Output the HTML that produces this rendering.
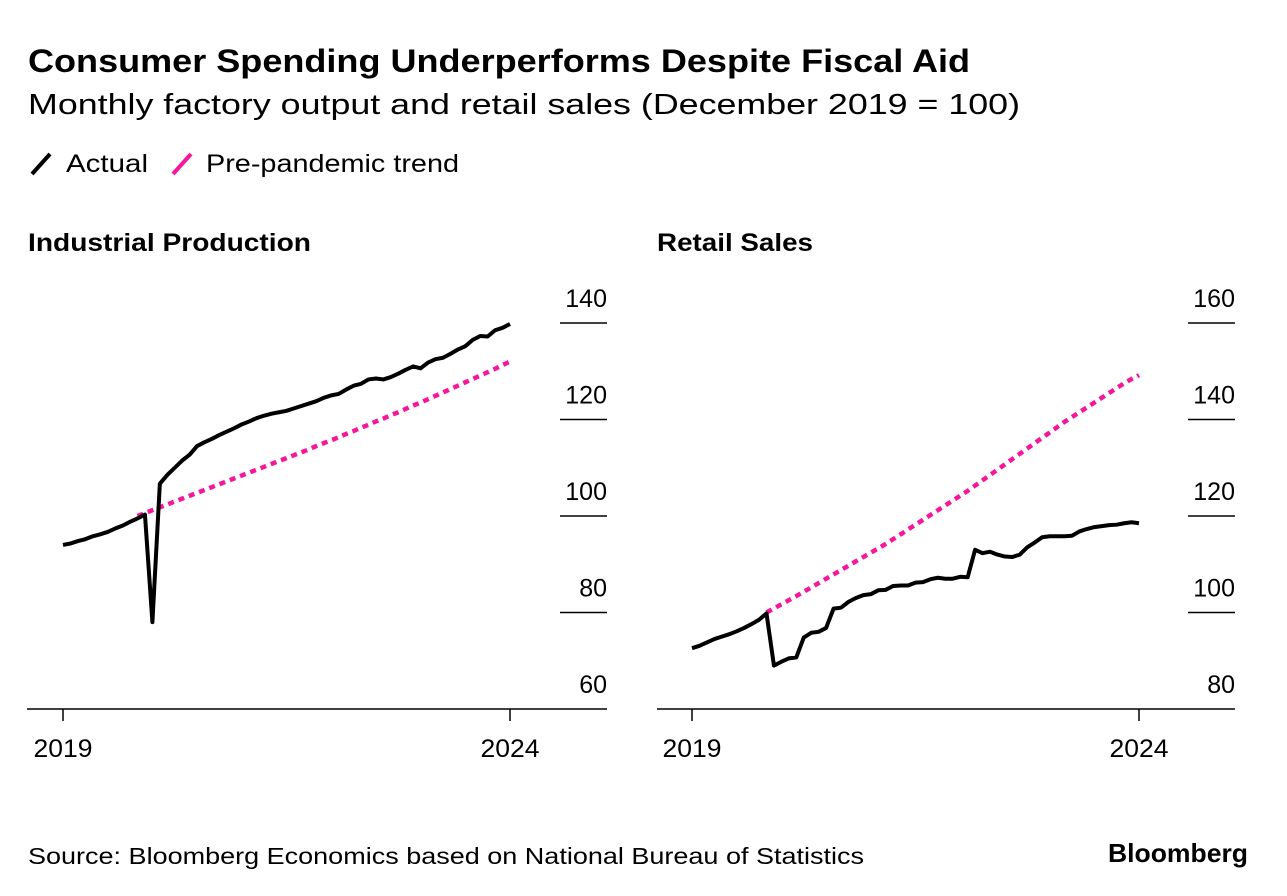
<!DOCTYPE html>
<html><head><meta charset="utf-8"><style>
body{margin:0;background:#fff;width:1287px;height:896px;overflow:hidden;font-family:"Liberation Sans",sans-serif;color:#000}
svg{position:absolute;left:0;top:0}
</style></head><body>
<svg id="c" width="1287" height="896">
<text x="28" y="72" font-size="32" font-weight="bold" textLength="942" lengthAdjust="spacingAndGlyphs">Consumer Spending Underperforms Despite Fiscal Aid</text>
<text x="28" y="114" font-size="29" textLength="992" lengthAdjust="spacingAndGlyphs">Monthly factory output and retail sales (December 2019 = 100)</text>
<g>
<line x1="32" y1="174" x2="50" y2="154" stroke="#000" stroke-width="4"/>
<text x="66" y="172" font-size="25" textLength="82" lengthAdjust="spacingAndGlyphs">Actual</text>
<line x1="173" y1="174" x2="191" y2="154" stroke="#f7169b" stroke-width="4"/>
<text x="206" y="172" font-size="25" textLength="253" lengthAdjust="spacingAndGlyphs">Pre-pandemic trend</text>
</g>
<text x="28" y="251" font-size="25" font-weight="bold" textLength="283" lengthAdjust="spacingAndGlyphs">Industrial Production</text>
<text x="657" y="251" font-size="25" font-weight="bold" textLength="156" lengthAdjust="spacingAndGlyphs">Retail Sales</text>
<text x="28" y="864" font-size="23" textLength="836" lengthAdjust="spacingAndGlyphs">Source: Bloomberg Economics based on National Bureau of Statistics</text>
<text x="1108" y="862" font-size="26" font-weight="bold" textLength="140" lengthAdjust="spacingAndGlyphs">Bloomberg</text>
</svg>
<script>
const leftActual=[94,94.3,94.8,95.2,95.8,96.2,96.7,97.4,98,98.8,99.5,100.3,78,106.7,108.5,110,111.5,112.7,114.5,115.3,116,116.8,117.5,118.2,119,119.6,120.3,120.8,121.2,121.5,121.8,122.3,122.8,123.3,123.8,124.5,125,125.3,126.2,127,127.4,128.3,128.5,128.3,128.8,129.5,130.3,131,130.6,131.8,132.5,132.8,133.6,134.5,135.2,136.5,137.3,137.2,138.5,139,139.8];
const leftTrend=[100,100.6,101.2,101.8,102.4,103,103.6,104.2,104.8,105.4,106,106.6,107.2,107.8,108.4,109,109.6,110.2,110.8,111.4,112,112.6,113.2,113.8,114.5,115.1,115.7,116.3,117,117.6,118.3,118.9,119.6,120.2,120.9,121.5,122.2,122.9,123.5,124.2,124.9,125.6,126.3,127,127.7,128.4,129.1,129.8,130.5,131.3,132];
const rightActual=[92.6,93.1,93.8,94.5,95,95.5,96.1,96.8,97.6,98.5,99.8,89,89.8,90.5,90.7,94.8,95.8,96,96.8,100.8,101,102.2,103,103.6,103.8,104.6,104.7,105.5,105.6,105.6,106.2,106.3,106.9,107.2,107,107,107.4,107.3,113,112.3,112.6,112,111.6,111.5,112,113.5,114.5,115.6,115.8,115.8,115.8,115.9,116.8,117.3,117.7,117.9,118.1,118.2,118.5,118.7,118.5];
const rightTrend=[100,100.85,101.7,102.55,103.4,104.3,105.2,106.1,107,107.9,108.8,109.7,110.6,111.5,112.4,113.3,114.2,115.2,116.2,117.2,118.2,119.2,120.2,121.2,122.2,123.2,124.2,125.2,126.3,127.4,128.5,129.6,130.7,131.8,132.9,134,135.1,136.2,137.3,138.4,139.5,140.5,141.5,142.5,143.5,144.5,145.5,146.5,147.5,148.4,149.2];
const trendStart=10;
const leftTicks=[60,80,100,120,140];
const rightTicks=[80,100,120,140,160];
const xLabels=["2019","2024"];
const NS="http://www.w3.org/2000/svg";
const svg=document.getElementById('c');
function el(t,a){const e=document.createElementNS(NS,t);for(const k in a)e.setAttribute(k,a[k]);svg.appendChild(e);return e;}
function panel(p,actual,trend,ticks){
  const x0=p.x0,x1=p.x1,yb=709,yt=323;
  const xs=i=>x0+(x1-x0)*i/60;
  const ys=v=>yb-(v-ticks[0])/(ticks[ticks.length-1]-ticks[0])*(yb-yt);
  let e=el('line',{x1:p.ax0,y1:yb,x2:p.ax1,y2:yb,stroke:'#000','stroke-width':1.5});
  
  
  [0,60].forEach((i,k)=>{
    let t=el('line',{x1:xs(i),y1:yb,x2:xs(i),y2:yb+12,stroke:'#000','stroke-width':1.5});
    
    
    let tx=el('text',{x:xs(i),y:757,'font-size':25,'text-anchor':'middle',textLength:59,lengthAdjust:'spacingAndGlyphs'});tx.textContent=xLabels[k];
    
    
  });
  ticks.forEach((v,k)=>{
    if(k>0){let l=el('line',{x1:p.ax1-47,y1:ys(v),x2:p.ax1,y2:ys(v),stroke:'#000','stroke-width':1.5});
    
    }
    let tx=el('text',{x:p.ax1,y:ys(v)-16,'font-size':25,'text-anchor':'end'});tx.textContent=v;
    
    
  });
  let d=trend.map((v,i)=>(i?'L':'M')+xs(i+trendStart)+','+ys(v)).join('');
  let tr=el('path',{d:d,fill:'none',stroke:'#f7169b','stroke-width':4.5,'stroke-dasharray':'6,5'});
  
  
  d=actual.map((v,i)=>(i?'L':'M')+xs(i)+','+ys(v)).join('');
  let ac=el('path',{d:d,fill:'none',stroke:'#000','stroke-width':4,'stroke-linejoin':'round'});
  
  
}
panel({x0:63,x1:510,ax0:27,ax1:607,n:'industrial'},leftActual,leftTrend,leftTicks);
panel({x0:692,x1:1139,ax0:657,ax1:1235,n:'retail'},rightActual,rightTrend,rightTicks);
</script>
</body></html>
